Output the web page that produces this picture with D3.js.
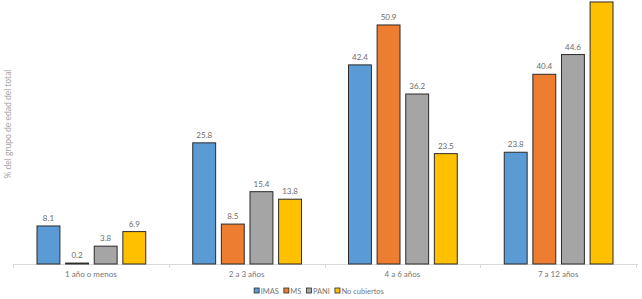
<!DOCTYPE html>
<meta charset="utf-8">
<script src="https://cdn.jsdelivr.net/npm/d3@7"></script>
<style>
body { margin: 0; background: #fff; }
text { font-family: Lato, "Open Sans", sans-serif; }
.val { font-size: 8px; fill: #6b6b6b; }
.cat { font-size: 8px; fill: #767676; }
.leg { font-size: 7.5px; fill: #767676; }
.ylab { font-size: 8.5px; fill: #a6a6a6; }
</style>
<body>
<script>

var categories = ["1 año o menos", "2 a 3 años", "4 a 6 años", "7 a 12 años"];
var seriesNames = ["IMAS", "MS", "PANI", "No cubiertos"];
var imas = [8.1, 25.8, 42.4, 23.8];
var ms = [0.2, 8.5, 50.9, 40.4];
var pani = [3.8, 15.4, 36.2, 44.6];
var noCubiertos = [6.9, 13.8, 23.5, 55.8];
var colors = ["#5B9BD5", "#ED7D31", "#A5A5A5", "#FFC000"];

var width = 642,
    height = 299;

var svg = d3.select("body").append("svg")
    .attr("width", width)
    .attr("height", height);

var baseY = 264;
var left = 13, right = 636;

var xscale = d3.scaleBand()
    .domain(categories)
    .range([left, right])
    .padding(0);

var xinner = d3.scaleBand()
    .domain(seriesNames)
    .range([24, xscale.bandwidth() - 23])
    .paddingInner(0.2);

var yscale = d3.scaleLinear()
    .domain([0, 60])
    .range([baseY, baseY - 60 * 4.696]);

var allSeries = [imas, ms, pani, noCubiertos];
var rows = [];
categories.forEach(function(c, i) {
  seriesNames.forEach(function(s, j) {
    rows.push({ cat: c, series: s, value: allSeries[j][i], color: colors[j] });
  });
});

// baseline
svg.append("line")
   .attr("x1", left).attr("x2", right + 2)
   .attr("y1", baseY + 0.5).attr("y2", baseY + 0.5)
   .attr("stroke", "#d9d9d9");

// ticks between categories
var ticks = categories.map(function(c) { return xscale(c); });
ticks.push(right);
svg.selectAll(".tick")
   .data(ticks)
   .enter().append("line")
   .attr("x1", function(d) { return Math.round(d) + 0.5; })
   .attr("x2", function(d) { return Math.round(d) + 0.5; })
   .attr("y1", baseY)
   .attr("y2", baseY + 4)
   .attr("stroke", "#d9d9d9");

var g = svg.append("g");

g.selectAll(".bar")
  .data(rows)
  .enter().append("rect")
  .attr("x", function(d) { return xscale(d.cat) + xinner(d.series); })
  .attr("y", function(d) { return yscale(d.value); })
  .attr("width", xinner.bandwidth())
  .attr("height", function(d) { return baseY - yscale(d.value); })
  .attr("fill", function(d) { return d.color; })
  .attr("stroke", "#2b2b2b")
  .attr("stroke-width", 1);

// value labels (the top one falls outside the cropped picture, as in the original)
g.selectAll(".val")
  .data(rows.filter(function(d) { return yscale(d.value) - 5 > 8; }))
  .enter().append("text")
  .attr("class", "val")
  .attr("text-anchor", "middle")
  .attr("x", function(d) { return xscale(d.cat) + xinner(d.series) + xinner.bandwidth() / 2; })
  .attr("y", function(d) { return yscale(d.value) - 5; })
  .text(function(d) { return d.value.toFixed(1); });

svg.selectAll(".cat")
  .data(categories)
  .enter().append("text")
  .attr("class", "cat")
  .attr("text-anchor", "middle")
  .attr("x", function(d) { return xscale(d) + xscale.bandwidth() / 2; })
  .attr("y", 277)
  .text(function(d) { return d; });

svg.append("text")
  .attr("class", "ylab")
  .attr("text-anchor", "middle")
  .attr("transform", "translate(11,124) rotate(-90)")
  .text("% del grupo de edad del total");

// legend, laid out from measured text widths and centred
var legend = svg.append("g").attr("transform", "translate(0,291)");
var items = [];
seriesNames.forEach(function(s, i) {
  var it = legend.append("g");
  it.append("rect")
    .attr("x", 0).attr("y", -3)
    .attr("width", 5).attr("height", 5)
    .attr("fill", colors[i])
    .attr("stroke", "#2b2b2b")
    .attr("stroke-width", 0.8);
  var t = it.append("text")
    .attr("class", "leg")
    .attr("x", 6.5)
    .attr("y", 2.5)
    .text(s);
  items.push({ g: it, w: 6.5 + t.node().getComputedTextLength() });
});
var gap = 5;
var total = d3.sum(items, function(d) { return d.w; }) + gap * (items.length - 1);
var cx = 319 - total / 2;
items.forEach(function(d) {
  d.g.attr("transform", "translate(" + cx + ",0)");
  cx += d.w + gap;
});

</script>
</body>
</html>
